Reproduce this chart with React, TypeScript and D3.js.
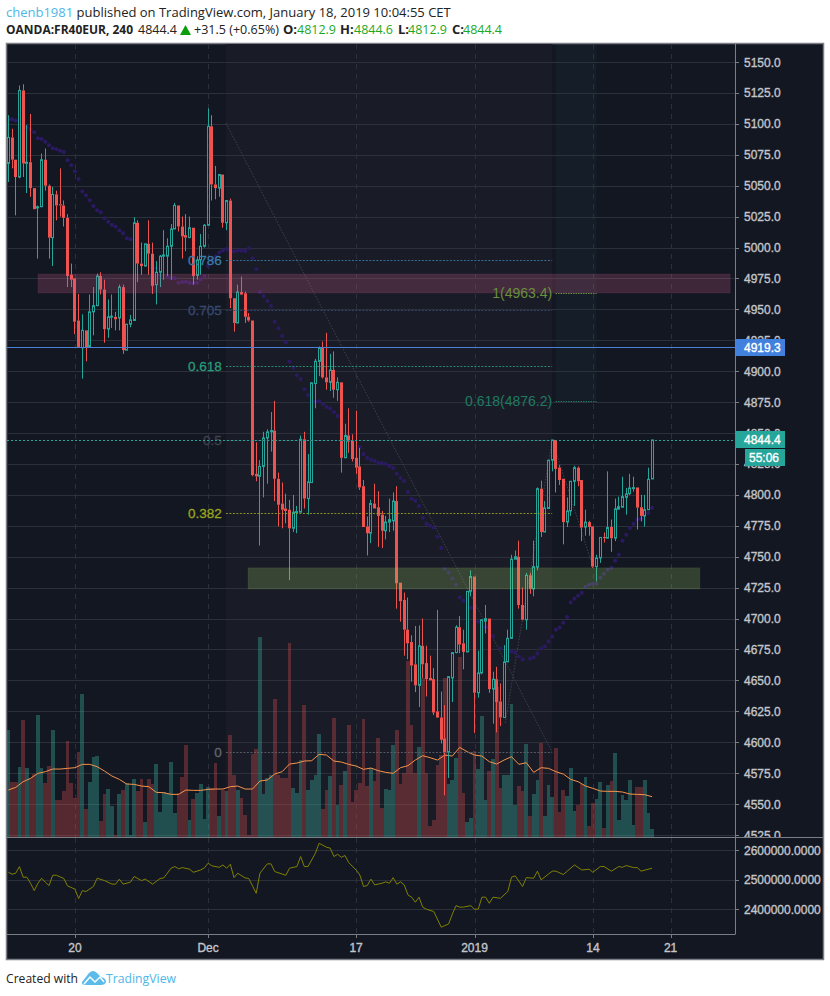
import React from 'react'
import * as d3 from 'd3'

// OHLC of the 4h candles
const opens = [
  5068,5089,5071,5057,5127,5068,5069,5048,5032,5033,
  5071,5050,5008,5043,5035,5034,5024,4978,4975,4941,
  4919,4933,4920,4948,4953,4977,4966,4934,4944,4944,
  4943,4968,4917,4938,4941,5020,4987,4985,5003,4995,
  4970,4980,4993,4993,5001,5015,5034,5017,5010,5008,
  5016,4977.5,4990,5001,5018,5098,5051,5048,5059,5020,
  5038,4959,4939,4964,4963,4944,4941,4817,4815,4823,
  4846,4851,4852,4813,4793,4789,4788,4773,4786,4786,
  4845,4797,4810,4890,4908,4919,4895,4891,4901,4885,
  4891,4830,4848,4844,4830,4823,4807,4774.5,4769,4793,
  4790,4784,4771,4778,4779,4795,4729,4715,4691,4681,
  4663,4646,4678,4664,4652,4651,4625,4620,4603,4592,
  4652,4672.5,4693,4680,4673,4722,4734,4640,4656,4698,
  4700,4643,4651,4633,4620,4665,4684,4748,4750,4711,
  4699,4735,4724,4741.5,4805,4770,4789,4828,4844.4,4822,
  4813,4778,4787,4811,4822,4812,4774,4778,4774.5,4742,
  4749,4766,4765,4774,4765,4788.5,4790,4798,4801,4805.4,
  4806,4790,4783,4788,4812.9,
]
const highs = [
  5107,5096,5071,5131,5132,5099,5108,5048,5034,5076,
  5080,5051,5049,5046,5064,5038,5027,4987,4975,4962.5,
  4946,4933,4962,4968,4979,4980,4974,4958,4962,4948,
  4970,4970,4938,4945.5,5024.5,5022,5004,5003,5022,5004,
  4989,4994,5014,5007.5,5019,5036,5034,5025,5027,5025,
  5016,4993,5011,5019,5112.5,5107,5066,5059.5,5059,5038,
  5039.5,4959,4970,4976.5,4964.5,4947,4941,4842.5,4828,4851,
  4853,4867,4876,4818,4810,4801,4796,4800,4791,4848,
  4851,4833,4891,4910,4920,4924,4931,4914,4916,4895,
  4891,4857.5,4870,4849,4868,4838,4812,4782.5,4796,4809,
  4803,4787,4783,4797,4802,4807,4729,4721,4717,4686.5,
  4694,4694.5,4700,4678,4670,4660,4707,4641,4630,4653.5,
  4672.5,4694.6,4702,4691,4722,4739,4734,4674,4699,4711,
  4700,4657,4661,4647.5,4678.5,4691,4751.6,4755,4763,4725,
  4737,4737,4763,4806,4811.5,4795,4828,4844.4,4844.4,4824,
  4813,4798,4811,4823.6,4823,4812,4788,4779,4774.5,4751.6,
  4765.6,4769.6,4819,4780,4797,4798.6,4814.7,4805.6,4817,4814.7,
  4806,4800,4800,4822,4844.6,
]
const lows = [
  5053,5064,5026,5056,5057,5044,5041,5031,4991,5033,
  5046,4991,4985,5022,5025,5017,4968,4968,4930,4919,
  4894,4908,4920,4929,4953,4962,4923,4927,4935,4933,
  4933,4914,4917,4935.5,4941,4972,4978,4985,4978,4962.5,
  4954,4968,4974,4977,4974,5015,5013,4991,4997,5008,
  4970,4974,4978,5000,5018,5038,5039,5041,5016,5014,
  4951,4932,4939,4961.5,4939,4940,4815,4811,4759,4798,
  4809,4835,4795,4774.5,4773,4777,4731,4770,4769,4786,
  4789,4784,4810,4870,4896,4894,4885,4884,4878.5,4876,
  4818,4830,4834,4827,4817,4804,4774,4751,4761,4789,
  4758,4757,4764,4770,4771,4708,4697.5,4670,4667,4649,
  4640.5,4628.5,4652,4637,4650,4622,4619.6,4599,4557,4571,
  4632.5,4672,4672,4659,4673,4718,4607.5,4636,4655,4688,
  4640,4615,4608,4613,4620,4665,4684,4748,4708,4698.6,
  4691,4720,4718,4739,4766,4770,4789,4819,4802,4808,
  4760,4774,4783,4791,4807,4762.6,4767,4767,4741,4730,
  4745,4761.5,4765,4754,4762.6,4788,4790,4784,4800,4802.6,
  4772,4778.5,4774.4,4788,4812.9,
]
const closes = [
  5089,5071,5057,5127,5068,5069,5048,5031,5033,5071,
  5050,5008,5043,5034,5034,5024,4977,4974,4940,4919,
  4933,4919,4948,4953,4977,4966,4934,4944,4944.5,4942,
  4968,4917,4938,4941.5,5020,4987,4985,5003,4995,4969,
  4980,4993,4994,5001,5015,5034,5017,5009,5008,5016,
  4977,4990,5001,5018,5098,5051,5048,5059,5020,5038,
  4959,4939,4964,4962,4944,4941,4816,4815,4823,4846,
  4851,4852,4813,4792,4788,4787,4773,4786,4786.5,4845,
  4797,4810.5,4890.6,4908,4919,4895,4891,4901,4885,4891,
  4830,4848,4843,4829,4822,4806,4774,4769,4793,4789,
  4783,4771,4778,4780,4795,4728.5,4714,4691,4680,4662,
  4646,4678,4663,4651,4650,4624,4620,4602,4592,4653,
  4672.5,4693,4679,4673,4722,4734,4640,4656,4699,4700,
  4643,4651,4632.5,4620,4665,4684,4748,4750,4711,4699,
  4735,4724,4742,4805,4770,4789.5,4828,4844.4,4821,4812,
  4778,4787,4811,4822,4811,4773.6,4778,4774,4742,4749,
  4765.6,4765,4773.6,4765,4788.7,4790.5,4798.6,4800.8,4805.6,4805.9,
  4789.7,4783,4788,4812.6,4844.4,
]

const volumes = [
  320,165,165,210,350,205,175,187,365,205,
  160,212,320,110,110,137,287,160,116,255,
  428,83,163,240,242,47,128,143,93,5,
  128,140,160,5,173,138,172,45,173,158,
  218,75,135,130,225,72,130,180,275,50,
  113,130,158,53,150,145,220,62,140,137,
  305,185,140,115,65,5,247,263,600,128,
  175,185,412,185,175,175,580,145,130,230,
  395,140,170,185,308,83,140,182,355,95,
  155,197,335,103,140,160,352,152,205,167,
  295,85,143,140,275,320,158,192,528,335,
  192,270,475,192,32,50,215,245,477,158,
  170,235,540,132,45,57,257,202,362,110,
  197,233,450,147,185,185,398,95,153,137,
  278,62,128,170,281,62,155,120,266,74,
  140,123,206,78,95,158,179,32,100,114,
  164,26,155,167,251,50,125,110,170,35,
  149,149,170,71,23,
]

// moving average over the volume, one reading every second bar
const volumeMaStep = 2
const volumeMa = [
  140,148,165,175,190,195,203,203,205,207,
  217,217,210,197,182,172,158,157,152,150,
  133,132,127,127,140,139,139,142,143,143,
  150,152,143,143,167,170,188,195,218,221,
  227,228,247,245,227,224,217,212,202,206,
  198,193,190,207,213,230,243,237,230,245,
  242,268,255,245,242,225,218,230,240,217,
  222,193,207,205,195,188,172,165,152,145,
  137,136,136,134,128,127,126,120,
]

// dotted moving average on the price pane
const dotBars = [
  0,1,2,5,6,7,8,9,10,11,12,13,14,15,16,17,18,19,20,21,22,23,24,25,26,27,28,29,30,31,32,33,37,40,
  41,43,44,45,46,47,48,49,50,51,52,53,54,55,56,57,58,59,60,61,62,63,64,65,66,67,68,69,70,71,
  72,73,74,75,76,77,78,79,80,81,82,83,84,85,86,87,88,89,92,95,96,97,98,99,100,101,102,103,104,105,
  106,107,108,109,110,111,112,113,114,115,116,117,118,119,120,121,122,123,125,127,129,131,133,136,
  137,138,139,141,142,143,144,145,146,147,148,149,150,151,152,153,154,155,156,157,158,159,160,161,
  162,163,164,165,166,167,168,169,170,171,172,173,174,
]
const dotValues = [
  5103.7,5103.7,5102.6,5097.2,5095.6,5093.1,5088.3,5087.8,5085.6,5082.6,5080.2,5079.4,5078.3,5077.3,5070.5,5066.5,5061.6,5055.4,5045.5,5042.2,5038.2,5033.6,5030.1,5028.5,5023.6,5020.9,5018.5,5016.9,5013.7,5011.5,5007.5,5006.7,4999.4,4983.2,
  4977.8,4976.5,4975.1,4975.1,4971.6,4972.2,4972.4,4971.6,4971.1,4971.6,4974.3,4977,4985.1,4990,4992.7,4995.9,4997.5,4998.9,4997.5,4996.7,4997.5,4997.5,4997.2,4999.4,4991.3,4982.4,4964.1,4960.9,4956.8,4952.8,
  4940,4934.7,4928.5,4923.4,4907.8,4903,4896.8,4893.6,4885.5,4880.7,4875.3,4875.3,4875.8,4873.4,4871,4869.9,4867,4863.7,4849.2,4838.5,4833.1,4829.9,4828.2,4827.4,4825.8,4825.8,4825,4823.4,4821.8,4817,
  4813.7,4811.3,4802.4,4796.8,4795.2,4791.1,4781.5,4776.6,4775,4773.4,4766.2,4757.3,4740.3,4737.1,4732.3,4727.4,4717,4714.5,4708.8,4697.5,4693.2,4685.4,4675.8,4673.4,
  4672.5,4669.3,4666.9,4667.7,4668.5,4671.7,4675.8,4677.4,4681.4,4685.4,4691,4692.7,4696.7,4701.3,4712.9,4716.1,4718.5,4720.9,4725.8,4727.4,4728.2,4728.2,4733,4736.2,
  4739.5,4741,4746.7,4751.6,4762.9,4767.7,4773.3,4776.6,4779.8,4780.6,4783.8,4785.4,4789.5,
]

// lower pane, in thousands
const lowerBars = [
  0,1,2,3,4,5,6,7,8,9,10,11,12,13,15,16,18,19,20,21,23,24,26,28,29,30,31,33,34,36,37,39,41,42,44,45,46,47,49,50,
  52,53,54,55,57,58,59,60,61,62,64,65,67,68,70,71,72,75,76,78,79,80,81,83,84,86,87,88,89,90,91,92,94,95,96,97,98,99,
  101,102,103,104,105,106,107,108,109,110,111,112,113,115,117,119,120,121,122,123,125,126,127,128,129,130,131,133,135,
  136,137,139,140,142,143,144,147,148,150,153,155,157,158,160,161,163,165,166,167,169,170,171,174,
]
const lowerValues = [
  2525.4,2518.6,2522,2544.6,2508.5,2508.5,2488,2463,2488,2505,2491.5,2480,2515,2515,2504,2479,2468,2436,2463,2460,2477,2505,2497,2485,2485,2502,2485,2491.5,2511,2497,2502,2485,2504,2506,2539,2544.6,2537,2541,2535.6,2525,
  2533,2540,2556,2547,2542,2550,2539,2552.5,2507,2522,2506,2504,2454,2522,2553.7,2553.7,2527.7,2515,2539,2544.6,2578.5,2544.6,2544.6,2590,2623.7,2610,2607,2578.5,2586,2576,2582,2558,2533,2516,2477,2480,2502,2482.5,
  2488,2492.7,2488,2507,2485,2492.7,2482.5,2448.6,2440.7,2423.7,2440.7,2406.8,2400,2392,2339,2350,2383,2412,2407,2407,2412,2400,2400,2440.7,2440.7,2420,2440.7,2437,2460,
  2508.5,2513,2477,2507,2505,2529,2499.4,2529,2529,2517.5,2550,2533,2535.6,2525,2544.6,2544.6,2529,2544.6,2542,2548,2541,2541,2529,2539,
]

const priceTicks = [5150,5125,5100,5075,5050,5025,5000,4975,4950,4925,4900,4875,4850,4825,4800,4775,4750,4725,4700,4675,4650,4625,4600,4575,4550,4525]
const lowerTicks = [2600, 2500, 2400]
const timeTickBars = [18, 54, 94, 126, 158, 179]
const timeTickLabels = ['20', 'Dec', '17', '2019', '14', '21']

const fibRatios = ['0.786', '0.705', '0.618', '0.5', '0.382', '0']
const fibPrices = [4990, 4949.5, 4904, 4844, 4785, 4592]
const fibColors = ['#3a7ca8', '#364a72', '#2a9d7a', '#3f4352', '#9aa61e', '#63666f']
const extRatios = ['1(4963.4)', '0.618(4876.2)']
const extPrices = [4963.4, 4876.2]
const extColors = ['#6b8f3c', '#1f7a63']

const lastPrice = 4844.4
const bluePrice = 4919.3

const CANDLE_UP = '#26a69a'
const CANDLE_DOWN = '#ef5350'
const BG = '#131722'
const FONT = '"Liberation Sans", Arial, sans-serif'
const HEAD = '"Open Sans", sans-serif'

const x = d3.scaleLinear().domain([0, 174]).range([8.33, 652.1])
const y = d3.scaleLinear().domain([5150, 4525]).range([62, 835])
const yVol = d3.scaleLinear().domain([0, 600]).range([836.7, 636.7])
const yLow = d3.scaleLinear().domain([2600, 2400]).range([850.2, 909.2])

const crisp = (v: number) => Math.round(v) + 0.5

const fibStart = 58.8
const fibEnd = 147
const extEnd = 159

const maLine = d3.line<number>()
  .x((_, i) => x(i * volumeMaStep))
  .y(d => yVol(d))

const lowerLine = d3.line<number>()
  .x((_, i) => x(lowerBars[i]))
  .y(d => yLow(d))

// labels in the reference are heavier than regular, lighter than bold
const axisText = { fontFamily: FONT, fontSize: 12, fill: '#c3c5c9', stroke: '#c3c5c9', strokeWidth: 0.35 }
const tagText = { fontFamily: FONT, fontSize: 12, fill: '#fff', stroke: '#fff', strokeWidth: 0.35 }

export default function App() {
  const bars = d3.range(opens.length)
  return (
    <svg width={830} height={996} style={{ position: 'absolute', left: 0, top: 0, background: '#fff' }}>
      <defs>
        <clipPath id="price-pane"><rect x={7} y={44} width={728} height={793} /></clipPath>
        <clipPath id="price-axis"><rect x={735} y={44} width={90} height={793} /></clipPath>
      </defs>

      {/* header */}
      <text x={6} y={17} fontFamily={HEAD} fontSize={13} fill="#222">
        <tspan fill="#4db7e8">chenb1981</tspan> published on TradingView.com, January 18, 2019 10:04:55 CET
      </text>
      <g fontFamily={HEAD} fontSize={13} fill="#222">
        <text x={6} y={34} fontWeight={700} textLength={127} lengthAdjust="spacingAndGlyphs">OANDA:FR40EUR, 240</text>
        <text x={138} y={34} textLength={39} lengthAdjust="spacingAndGlyphs">4844.4</text>
        <text x={194} y={34} textLength={85} lengthAdjust="spacingAndGlyphs">+31.5 (+0.65%)</text>
        <text x={283} y={34} fontWeight={700}>O:</text>
        <text x={297} y={34} fill="#1fa81f" textLength={39} lengthAdjust="spacingAndGlyphs">4812.9</text>
        <text x={340} y={34} fontWeight={700}>H:</text>
        <text x={354} y={34} fill="#1fa81f" textLength={39} lengthAdjust="spacingAndGlyphs">4844.6</text>
        <text x={398} y={34} fontWeight={700}>L:</text>
        <text x={408} y={34} fill="#1fa81f" textLength={39} lengthAdjust="spacingAndGlyphs">4812.9</text>
        <text x={452} y={34} fontWeight={700}>C:</text>
        <text x={463} y={34} fill="#1fa81f" textLength={39} lengthAdjust="spacingAndGlyphs">4844.4</text>
      </g>
      <path d="M180,35 L185.5,25 L191,35 Z" fill="#0a9e0a" />

      {/* chart frame */}
      <rect x={6.5} y={43.5} width={817} height={916} fill={BG} stroke="#7b7e85" strokeWidth={1.5} />

      <g clipPath="url(#price-pane)">
        <rect x={x(fibStart)} y={44} width={x(fibEnd) - x(fibStart)} height={793} fill="#191c27" />
        <rect x={x(fibEnd + 0.9)} y={44} width={x(extEnd) - x(fibEnd + 0.9)} height={y(extPrices[1]) - 44} fill="#26a69a" opacity={0.05} />

        {priceTicks.map(p => (
          <line key={p} x1={7} x2={735} y1={crisp(y(p))} y2={crisp(y(p))} stroke="#2c303b" />
        ))}
        {timeTickBars.map(b => (
          <line key={b} x1={crisp(x(b))} x2={crisp(x(b))} y1={44} y2={837} stroke="#2c303b" strokeDasharray="5,5" />
        ))}

        {/* volume */}
        {volumes.map((v, i) => {
          const up = closes[i] >= opens[i]
          return (
            <rect key={i} x={x(i) - 1.85} width={3.7} y={yVol(v)} height={yVol(0) - yVol(v)}
              fill={up ? '#3cb4a2' : CANDLE_DOWN} opacity={up ? 0.35 : 0.3} shapeRendering="crispEdges" />
          )
        })}
        <path d={maLine(volumeMa) || ''} fill="none" stroke="#f7934a" strokeWidth={1} />

        {/* fib fan lines */}
        <path d={`M${x(fibStart)},${y(5100.7)}L${x(fibEnd)},${y(4592)}`} fill="none" stroke="#3f424d" strokeWidth={1} strokeDasharray="1.5,1.5" />
        <path d={`M${x(134.3)},${y(4615.6)}L${x(fibEnd)},${y(lastPrice)}L${x(158)},${y(4742)}`} fill="none" stroke="#3f424d" strokeWidth={1} strokeDasharray="1.5,1.5" />

        {/* dotted MA */}
        {dotValues.map((v, i) => (
          <circle key={i} cx={x(dotBars[i])} cy={y(v)} r={2} fill="#2b1a62" />
        ))}

        {/* candles */}
        {bars.map(i => {
          const up = closes[i] >= opens[i]
          const color = up ? CANDLE_UP : CANDLE_DOWN
          const top = y(Math.max(opens[i], closes[i]))
          const bottom = y(Math.min(opens[i], closes[i]))
          const cx = crisp(x(i) - 0.5)
          return (
            <g key={i}>
              <line x1={cx} x2={cx} y1={y(highs[i])} y2={top} stroke={color} />
              <line x1={cx} x2={cx} y1={bottom} y2={y(lows[i])} stroke={color} />
              {up
                ? <rect x={cx - 1} y={top} width={2} height={Math.max(bottom - top, 1)} fill={BG} fillOpacity={0.6} stroke={color} />
                : <rect x={cx - 1.5} y={top} width={3} height={Math.max(bottom - top, 1)} fill={color} />}
            </g>
          )
        })}

        {/* zones */}
        <rect x={x(8)} y={y(4978.6)} width={x(195.1) - x(8)} height={y(4963.2) - y(4978.6)}
          fill="#df6392" fillOpacity={0.22} stroke="#df6392" strokeOpacity={0.1} />
        <rect x={x(64.8)} y={y(4741)} width={x(186.9) - x(64.8)} height={y(4724) - y(4741)}
          fill="#a7db62" fillOpacity={0.22} stroke="#a7db62" strokeOpacity={0.1} />

        {/* fib levels */}
        {fibRatios.map((r, i) => (
          <g key={r}>
            <line x1={x(fibStart)} x2={x(fibEnd)} y1={crisp(y(fibPrices[i]))} y2={crisp(y(fibPrices[i]))}
              stroke={fibColors[i]} strokeDasharray="2,1.5" opacity={0.85} />
            <text x={x(fibStart) - 4} y={y(fibPrices[i]) + 5} textAnchor="end" fontFamily={FONT} fontSize={13.5}
              fill={fibColors[i]} stroke={fibColors[i]} strokeWidth={0.3}>{r}</text>
          </g>
        ))}
        {extRatios.map((r, i) => (
          <g key={r}>
            <line x1={x(fibEnd + 0.9)} x2={x(extEnd)} y1={crisp(y(extPrices[i]))} y2={crisp(y(extPrices[i]))}
              stroke={extColors[i]} strokeDasharray="1.5,1" />
            <text x={x(fibEnd)} y={y(extPrices[i]) + 5} textAnchor="end" fontFamily={FONT} fontSize={14}
              fill={extColors[i]}>{r}</text>
          </g>
        ))}

        <line x1={7} x2={735} y1={crisp(y(bluePrice))} y2={crisp(y(bluePrice))} stroke="#4a80d8" />
        <line x1={7} x2={735} y1={crisp(y(lastPrice))} y2={crisp(y(lastPrice))} stroke={CANDLE_UP} strokeDasharray="2,2" />
      </g>

      {/* price axis */}
      <g clipPath="url(#price-axis)">
        {priceTicks.map(p => (
          <g key={p}>
            <line x1={735} x2={739} y1={crisp(y(p))} y2={crisp(y(p))} stroke="#7b7e85" />
            <text x={744} y={y(p) + 4.5} {...axisText}>{p.toFixed(1)}</text>
          </g>
        ))}
      </g>
      <rect x={735} y={339} width={50} height={17} fill="#4180dc" />
      <text x={744} y={y(bluePrice) + 4.5} {...tagText}>{bluePrice.toFixed(1)}</text>
      <rect x={735} y={431} width={50} height={17} fill={CANDLE_UP} />
      <text x={744} y={y(lastPrice) + 4.5} {...tagText}>{lastPrice.toFixed(1)}</text>
      <rect x={745} y={449} width={40} height={17} fill={CANDLE_UP} />
      <text x={749} y={461.5} {...tagText}>55:06</text>

      {/* lower pane */}
      {lowerTicks.map(t => (
        <g key={t}>
          <line x1={7} x2={735} y1={crisp(yLow(t))} y2={crisp(yLow(t))} stroke="#2c303b" />
          <line x1={735} x2={739} y1={crisp(yLow(t))} y2={crisp(yLow(t))} stroke="#7b7e85" />
          <text x={744} y={yLow(t) + 4.5} {...axisText}>{(t * 1000).toFixed(4)}</text>
        </g>
      ))}
      {timeTickBars.map((b, i) => (
        <g key={b}>
          <line x1={crisp(x(b))} x2={crisp(x(b))} y1={838} y2={934} stroke="#2c303b" strokeDasharray="5,5" />
          <line x1={crisp(x(b))} x2={crisp(x(b))} y1={934} y2={938} stroke="#7b7e85" />
          <text x={x(b)} y={952} textAnchor="middle" {...axisText}>{timeTickLabels[i]}</text>
        </g>
      ))}
      <path d={lowerLine(lowerValues) || ''} fill="none" stroke="#808000" strokeWidth={1} />

      {/* pane separators */}
      <line x1={7} x2={823} y1={837.5} y2={837.5} stroke="#7b7e85" />
      <line x1={7} x2={735} y1={934.5} y2={934.5} stroke="#7b7e85" />
      <line x1={735.5} x2={735.5} y1={44} y2={934.5} stroke="#7b7e85" />

      {/* footer */}
      <text x={6} y={983} fontFamily={HEAD} fontSize={13} fill="#222" textLength={72} lengthAdjust="spacingAndGlyphs">Created with</text>
      <path d="M82,982 L89,973 Q93,969 97,973 L101,977 Q106,978 106,982 Q105,985 101,985 L86,985 Q81,985 82,982 Z" fill="#5bbce9" />
      <path d="M84,984 L90,977 L95,982 L100,977 L104,982" fill="none" stroke="#fff" strokeWidth={1.5} />
      <text x={106} y={983} fontFamily={HEAD} fontSize={13.2} fill="#4db7e8" textLength={70} lengthAdjust="spacingAndGlyphs">TradingView</text>
    </svg>
  )
}
